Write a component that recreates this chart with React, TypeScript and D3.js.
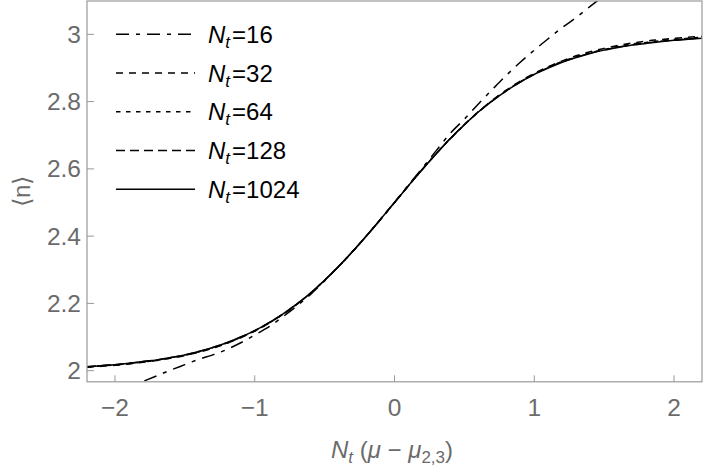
import React from "react";
import * as d3 from "d3";

// sample points along N_t (mu - mu_{2,3})
const xGrid = [
  -2.2, -2.1, -2.0, -1.9, -1.8, -1.7, -1.6, -1.5, -1.4, -1.3, -1.2, -1.1, -1.0,
  -0.9, -0.8, -0.7, -0.6, -0.5, -0.4, -0.3, -0.2, -0.1, 0.0, 0.1, 0.2, 0.3,
  0.4, 0.5, 0.6, 0.7, 0.8, 0.9, 1.0, 1.1, 1.2, 1.3, 1.4, 1.5, 1.6, 1.7, 1.8,
  1.9, 2.0, 2.1, 2.2,
];

// <n> for each N_t
const n16 = [
  1.9, 1.917, 1.934, 1.951, 1.968, 1.985, 2.002, 2.018, 2.034, 2.047, 2.063,
  2.083, 2.106, 2.13, 2.16, 2.192, 2.227, 2.267, 2.31, 2.354, 2.401, 2.45, 2.5,
  2.552, 2.603, 2.655, 2.706, 2.748, 2.793, 2.836, 2.878, 2.917, 2.953, 2.987,
  3.02, 3.05, 3.083, 3.115, 3.145, 3.175, 3.2, 3.22, 3.24, 3.26, 3.28,
];
const n32 = [
  2.01, 2.013, 2.016, 2.02, 2.025, 2.03, 2.037, 2.045, 2.055, 2.067, 2.081,
  2.098, 2.118, 2.141, 2.167, 2.197, 2.231, 2.269, 2.31, 2.354, 2.401, 2.45,
  2.5, 2.55, 2.599, 2.646, 2.691, 2.732, 2.77, 2.804, 2.834, 2.861, 2.884,
  2.904, 2.921, 2.936, 2.948, 2.958, 2.967, 2.974, 2.98, 2.984, 2.988, 2.991,
  2.994,
];
const n64 = [
  2.011, 2.014, 2.017, 2.021, 2.026, 2.031, 2.038, 2.046, 2.056, 2.068, 2.082,
  2.099, 2.118, 2.141, 2.167, 2.197, 2.231, 2.269, 2.31, 2.354, 2.401, 2.45,
  2.5, 2.55, 2.599, 2.646, 2.69, 2.731, 2.769, 2.803, 2.833, 2.859, 2.882,
  2.902, 2.919, 2.933, 2.945, 2.955, 2.964, 2.971, 2.976, 2.981, 2.985, 2.988,
  2.991,
];
const n128 = [
  2.012, 2.015, 2.018, 2.022, 2.027, 2.032, 2.039, 2.047, 2.057, 2.069, 2.083,
  2.1, 2.119, 2.142, 2.168, 2.198, 2.231, 2.269, 2.31, 2.354, 2.401, 2.45, 2.5,
  2.55, 2.599, 2.646, 2.69, 2.731, 2.769, 2.802, 2.832, 2.858, 2.881, 2.901,
  2.918, 2.932, 2.944, 2.954, 2.962, 2.969, 2.974, 2.979, 2.983, 2.986, 2.989,
];
const n1024 = [
  2.012, 2.015, 2.018, 2.022, 2.027, 2.032, 2.039, 2.047, 2.057, 2.069, 2.083,
  2.1, 2.119, 2.142, 2.168, 2.198, 2.231, 2.269, 2.31, 2.354, 2.401, 2.45, 2.5,
  2.55, 2.599, 2.646, 2.69, 2.731, 2.769, 2.802, 2.832, 2.858, 2.881, 2.9,
  2.917, 2.931, 2.943, 2.953, 2.961, 2.968, 2.973, 2.978, 2.982, 2.985, 2.988,
];

const ntLabels = ["16", "32", "64", "128", "1024"];
const seriesValues = [n16, n32, n64, n128, n1024];
const dashes = ["13,7,4,7", "7,6", "4.5,5.5", "9,5", null];

const xTicks = [-2, -1, 0, 1, 2];
const yTicks = [2, 2.2, 2.4, 2.6, 2.8, 3];

const W = 706;
const H = 467;
const left = 87;
const right = 702;
const top = 1;
const bottom = 381.8;

const font = "'Liberation Sans', Arial, Helvetica, sans-serif";
const grey = "#6b6b6b";
const frameGrey = "#999";

function fmt(v: number) {
  const s = d3.format("~g")(v);
  return s.replace("-", "\u2212");
}

export default function App() {
  const x = d3.scaleLinear().domain([-2.2, 2.2]).range([left, right]);
  const y = d3.scaleLinear().domain([1.967, 3.099]).range([bottom, top]);

  const line = d3
    .line<number>()
    .x((d, i) => x(xGrid[i]))
    .y((d) => y(d))
    .curve(d3.curveMonotoneX);

  const legX0 = 116;
  const legX1 = 195;
  const legY0 = 34.3;
  const legStep = 38.75;

  return (
    <svg
      width={W}
      height={H}
      style={{ position: "absolute", left: 0, top: 0, display: "block", background: "#fff" }}
      fontFamily={font}
    >
      <defs>
        <clipPath id="plot">
          <rect x={left} y={top} width={right - left} height={bottom - top} />
        </clipPath>
      </defs>

      {/* curves */}
      <g clipPath="url(#plot)" fill="none" stroke="#000" strokeWidth={1.5}>
        {seriesValues.map((vals, k) => (
          <path
            key={k}
            d={line(vals) || ""}
            strokeDasharray={dashes[k] || undefined}
          />
        ))}
      </g>

      {/* frame */}
      <rect
        x={left}
        y={top}
        width={right - left}
        height={bottom - top}
        fill="none"
        stroke={frameGrey}
        strokeWidth={1.2}
      />

      {/* x ticks */}
      {xTicks.map((t) => (
        <g key={"x" + t}>
          <line x1={x(t)} x2={x(t)} y1={bottom} y2={bottom - 6.5} stroke={frameGrey} strokeWidth={1} />
          <text x={x(t)} y={415.5} textAnchor="middle" fontSize={24.5} fill={grey}>
            {fmt(t)}
          </text>
        </g>
      ))}

      {/* y ticks */}
      {yTicks.map((t) => (
        <g key={"y" + t}>
          <line x1={left} x2={left + 7} y1={y(t)} y2={y(t)} stroke={frameGrey} strokeWidth={1} />
          <text x={81} y={y(t) + 8.6} textAnchor="end" fontSize={24.5} fill={grey}>
            {fmt(t)}
          </text>
        </g>
      ))}

      {/* axis labels */}
      <text
        transform={`translate(30, ${(top + bottom) / 2}) rotate(-90)`}
        textAnchor="middle"
        fontSize={24}
        fill={grey}
      >
        {"\u27e8n\u27e9"}
      </text>
      <text x={392} y={458} textAnchor="middle" fontSize={24} fill={grey}>
        <tspan fontStyle="italic">N</tspan>
        <tspan fontStyle="italic" fontSize={17} dy={5}>t</tspan>
        <tspan dy={-5}>{" ("}</tspan>
        <tspan fontStyle="italic">{"\u03bc"}</tspan>
        <tspan>{" \u2212 "}</tspan>
        <tspan fontStyle="italic">{"\u03bc"}</tspan>
        <tspan fontSize={17} dy={5}>2,3</tspan>
        <tspan dy={-5}>)</tspan>
      </text>

      {/* legend */}
      {ntLabels.map((lab, k) => {
        const ly = legY0 + k * legStep;
        return (
          <g key={"leg" + lab}>
            <line
              x1={legX0}
              x2={legX1}
              y1={ly}
              y2={ly}
              stroke="#000"
              strokeWidth={1.5}
              strokeDasharray={dashes[k] || undefined}
            />
            <text x={208} y={ly + 8.6} fontSize={24} fill="#000">
              <tspan fontStyle="italic">N</tspan>
              <tspan fontStyle="italic" fontSize={17} dy={5}>t</tspan>
              <tspan dy={-5} dx={2}>{"=" + lab}</tspan>
            </text>
          </g>
        );
      })}
    </svg>
  );
}
